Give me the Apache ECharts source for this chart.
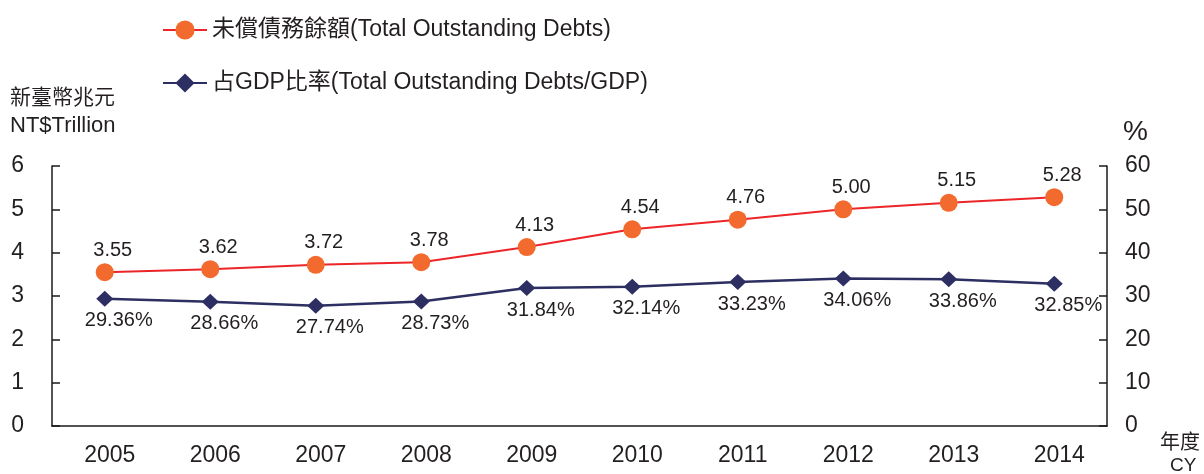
<!DOCTYPE html>
<html>
<head>
<meta charset="utf-8">
<script src="https://cdn.jsdelivr.net/npm/echarts@6/dist/echarts.min.js"></script>
<style>
  html, body { margin: 0; padding: 0; background: #fff; }
  #chart { width: 1204px; height: 474px; }
</style>
</head>
<body>
<div id="chart"></div>
<script>
// Fiscal years on the category axis
const years = ['2005', '2006', '2007', '2008', '2009', '2010', '2011', '2012', '2013', '2014'];
// Total outstanding debts, NT$ trillion
const debts = [3.55, 3.62, 3.72, 3.78, 4.13, 4.54, 4.76, 5.00, 5.15, 5.28];
// Outstanding debts as a share of GDP, %
const debtToGdp = [29.36, 28.66, 27.74, 28.73, 31.84, 32.14, 33.23, 34.06, 33.86, 32.85];
// Axis tick values
const leftTicks = [0, 1, 2, 3, 4, 5, 6];
const rightTicks = [0, 10, 20, 30, 40, 50, 60];

const seriesNames = ['未償債務餘額(Total Outstanding Debts)', '占GDP比率(Total Outstanding Debts/GDP)'];

const TEXT = '#231F20';
const FONT = '"Liberation Sans", Arial, "Noto Sans CJK TC", sans-serif';
const CJK = '"Noto Sans CJK TC", "Liberation Sans", sans-serif';

const chart = echarts.init(document.getElementById('chart'), null, { renderer: 'canvas' });

chart.setOption({
  backgroundColor: '#ffffff',
  animation: false,
  textStyle: { fontFamily: FONT, color: TEXT },
  grid: { left: 52, right: 97, top: 166, bottom: 48, containLabel: false },
  legend: {
    orient: 'vertical',
    left: 162,
    top: 17,
    padding: 0,
    itemWidth: 44,
    itemHeight: 24,
    itemGap: 27,
    textStyle: { fontFamily: FONT, fontSize: 23, color: TEXT, lineHeight: 26 },
    data: seriesNames
  },
  xAxis: {
    type: 'category',
    data: years,
    boundaryGap: true,
    axisLine: { show: true, lineStyle: { color: '#1a1a1a', width: 1.5 } },
    axisTick: { show: false },
    axisLabel: { fontSize: 23, color: TEXT, margin: 18, fontFamily: FONT, padding: [0, 0, 0, 10] }
  },
  yAxis: [
    {
      type: 'value',
      min: leftTicks[0],
      max: leftTicks[leftTicks.length - 1],
      interval: leftTicks[1] - leftTicks[0],
      position: 'left',
      axisLine: { show: true, lineStyle: { color: '#1a1a1a', width: 1.5 } },
      axisTick: { show: true, inside: true, length: 8, lineStyle: { color: '#1a1a1a', width: 1.5 } },
      splitLine: { show: false },
      axisLabel: { fontSize: 23, color: TEXT, margin: 28, fontFamily: FONT }
    },
    {
      type: 'value',
      min: rightTicks[0],
      max: rightTicks[rightTicks.length - 1],
      interval: rightTicks[1] - rightTicks[0],
      position: 'right',
      axisLine: { show: true, lineStyle: { color: '#1a1a1a', width: 1.5 } },
      axisTick: { show: true, inside: true, length: 8, lineStyle: { color: '#1a1a1a', width: 1.5 } },
      splitLine: { show: false },
      axisLabel: { fontSize: 23, color: TEXT, margin: 18, fontFamily: FONT }
    }
  ],
  series: [
    {
      name: seriesNames[0],
      type: 'line',
      yAxisIndex: 0,
      data: debts,
      symbol: 'circle',
      symbolSize: 18,
      itemStyle: { color: '#F26A2E' },
      lineStyle: { color: '#EC2529', width: 2 },
      label: {
        show: true,
        position: 'top',
        distance: 3,
        offset: [8, 0],
        fontSize: 20,
        color: TEXT,
        fontFamily: FONT,
        formatter: p => p.value.toFixed(2)
      },
      z: 3
    },
    {
      name: seriesNames[1],
      type: 'line',
      yAxisIndex: 1,
      data: debtToGdp,
      symbol: 'diamond',
      symbolSize: [17, 16],
      itemStyle: { color: '#2D2F62' },
      lineStyle: { color: '#2D2F62', width: 2.5 },
      label: {
        show: true,
        position: 'bottom',
        distance: 4,
        offset: [14, 0],
        fontSize: 20,
        color: TEXT,
        fontFamily: FONT,
        formatter: p => p.value.toFixed(2) + '%'
      },
      z: 2
    }
  ],
  graphic: [
    {
      type: 'text', left: 10, top: 86,
      style: { text: '新臺幣兆元', font: '21px ' + CJK, fill: TEXT }
    },
    {
      type: 'text', left: 10, top: 115,
      style: { text: 'NT$Trillion', font: '22px ' + FONT, fill: TEXT }
    },
    {
      type: 'text', left: 1123, top: 118,
      style: { text: '%', font: '28px ' + FONT, fill: TEXT }
    },
    {
      type: 'text', left: 1160, top: 431,
      style: { text: '年度', font: '20px ' + CJK, fill: TEXT }
    },
    {
      type: 'text', left: 1170, top: 456,
      style: { text: 'CY', font: '19px ' + FONT, fill: TEXT }
    }
  ]
});
</script>
</body>
</html>
